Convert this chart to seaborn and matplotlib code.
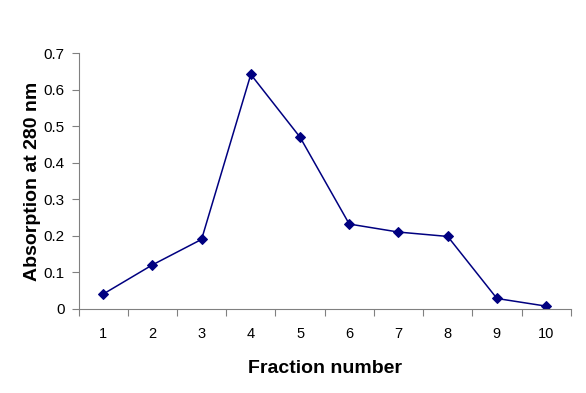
import numpy as np
import pandas as pd
import matplotlib
matplotlib.use('Agg')
import matplotlib.pyplot as plt
import seaborn as sns

# fraction numbers and absorbance readings
fractions = [1, 2, 3, 4, 5, 6, 7, 8, 9, 10]
absorption = [0.04, 0.12, 0.19, 0.642, 0.47, 0.232, 0.21, 0.198, 0.028, 0.007]
yticks = [0, 0.1, 0.2, 0.3, 0.4, 0.5, 0.6, 0.7]
ytick_labels = ['0', '0.1', '0.2', '0.3', '0.4', '0.5', '0.6', '0.7']

df = pd.DataFrame({'Fraction': fractions, 'Absorption': absorption})

sns.set_style('white')
plt.rcParams['font.family'] = ['Liberation Sans', 'DejaVu Sans']
plt.rcParams['text.color'] = 'black'
plt.rcParams['axes.labelcolor'] = 'black'
plt.rcParams['xtick.labelcolor'] = 'black'
plt.rcParams['ytick.labelcolor'] = 'black'

fig = plt.figure(figsize=(5.86, 3.93), dpi=100)
ax = fig.add_axes([0.134, 0.2145, 0.840, 0.65])

sns.lineplot(data=df, x='Fraction', y='Absorption', ax=ax, color='#000080',
             marker='D', markersize=5.5, markeredgecolor='#000080',
             linewidth=1.1)

ax.set_xlim(0.5, 10.5)
ax.set_ylim(0, 0.7)

# category-style axis: ticks between categories, labels in the middle
ax.set_xticks(np.arange(0.5, 11, 1))
ax.set_xticklabels([])
ax.set_xticks(fractions, minor=True)
ax.set_xticklabels([str(f) for f in fractions], minor=True, fontsize=10.5)
ax.tick_params(axis='x', which='major', direction='out', length=5, width=0.8,
               color='#808080', bottom=True)
ax.tick_params(axis='x', which='minor', length=0, pad=13)

ax.set_yticks(yticks)
ax.set_yticklabels(ytick_labels, fontsize=11)
ax.tick_params(axis='y', direction='out', length=5, width=0.8, color='#808080',
               left=True, pad=5)

for s in ['top', 'right']:
    ax.spines[s].set_visible(False)
for s in ['left', 'bottom']:
    ax.spines[s].set_color('#808080')
    ax.spines[s].set_linewidth(0.8)

ax.set_xlabel('Fraction number', fontsize=14, fontweight='bold', labelpad=14)
ax.set_ylabel('Absorption at 280 nm', fontsize=14, fontweight='bold', labelpad=2)

fig.savefig('out.png', dpi=100)
